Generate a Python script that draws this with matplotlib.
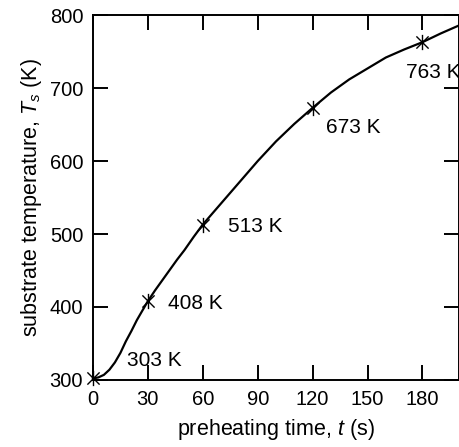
import matplotlib.pyplot as plt
from matplotlib.path import Path

plt.rcParams['font.family'] = ['Liberation Sans', 'DejaVu Sans']
plt.rcParams['mathtext.fontset'] = 'custom'
plt.rcParams['mathtext.it'] = 'Liberation Sans:italic'
plt.rcParams['mathtext.rm'] = 'Liberation Sans'

# heating curve
time_s = [0, 3, 6, 9, 12, 15, 18, 21, 24, 27, 30, 34, 38, 42, 46, 50, 55, 60,
          70, 80, 90, 100, 110, 120, 130, 140, 150, 160, 170, 180, 190, 200]
temp_k = [302, 303.5, 307, 314, 324, 337, 353, 367, 382, 395, 408, 423, 437,
          451, 465, 478, 496, 513, 542, 571, 600, 627, 651, 673, 694, 712,
          727, 742, 753, 763, 775, 786]

# marked points and their labels
mark_t = [0, 30, 60, 120, 180]
mark_T = [303, 408, 513, 673, 763]
mark_labels = ["303 K", "408 K", "513 K", "673 K", "763 K"]
label_t = [18.5, 41, 74, 127.5, 171]
label_T = [326, 405, 511, 646, 721]

x_ticks = [0, 30, 60, 90, 120, 150, 180]
y_ticks = [300, 400, 500, 600, 700, 800]

# asterisk: vertical stroke plus two diagonals
star = Path([(0, -1), (0, 1), (-0.8, -0.8), (0.8, 0.8), (-0.8, 0.8), (0.8, -0.8)],
            [Path.MOVETO, Path.LINETO, Path.MOVETO, Path.LINETO,
             Path.MOVETO, Path.LINETO])

fig = plt.figure(figsize=(4.6, 4.47), dpi=100)
ax = fig.add_axes([0.202, 0.150, 0.796, 0.816])

ax.plot(time_s, temp_k, color='black', lw=1.6, clip_on=False)
ax.plot(mark_t, mark_T, linestyle='none', marker=star, markersize=11,
        markeredgewidth=1.0, color='black', clip_on=False)

for t, T, lab in zip(label_t, label_T, mark_labels):
    ax.text(t, T, lab, fontsize=15, va='center', ha='left')

ax.set_xlim(0, 200)
ax.set_ylim(300, 800)
ax.set_xticks(x_ticks)
ax.set_yticks(y_ticks)
ax.tick_params(direction='in', length=11, width=1.4, labelsize=14.5,
               top=True, right=True, pad=7)
for sp in ax.spines.values():
    sp.set_linewidth(1.4)

ax.set_xlabel("preheating time, $t$ (s)", fontsize=15.5, labelpad=6)
ax.set_ylabel("substrate temperature, $T_s$ (K)", fontsize=15.5, labelpad=4)

fig.savefig("out.png", dpi=100)
